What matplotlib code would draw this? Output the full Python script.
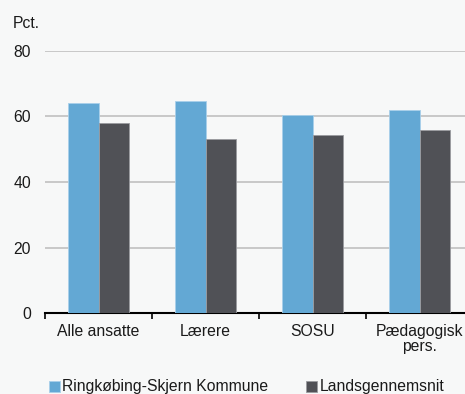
import numpy as np
import matplotlib.pyplot as plt

# Data
kategorier = ["Alle ansatte", "Lærere", "SOSU", "Pædagogisk\npers."]
ringkobing = [64.2, 64.7, 60.4, 61.9]
landsgennemsnit = [58.1, 53.0, 54.3, 56.0]
serie_navne = ["Ringkøbing-Skjern Kommune", "Landsgennemsnit"]

plt.rcParams["font.family"] = ["Liberation Sans", "DejaVu Sans"]
plt.rcParams["font.size"] = 11.3
plt.rcParams["text.color"] = "#1a1a1a"
plt.rcParams["xtick.labelcolor"] = "#1a1a1a"
plt.rcParams["ytick.labelcolor"] = "#1a1a1a"

bg = "#f7f8f8"
blaa = "#63a8d4"
graa = "#505156"

fig = plt.figure(figsize=(4.65, 3.94), dpi=100, facecolor=bg)
ax = fig.add_axes([45 / 465, 1 - 313 / 394, 428 / 465, 262 / 394], facecolor=bg)

x = np.arange(len(kategorier))
b = 0.285
ax.bar(x - b / 2, ringkobing, b, color=blaa, edgecolor="#a9d0ea", linewidth=0.6,
       label=serie_navne[0], zorder=3)
ax.bar(x + b / 2, landsgennemsnit, b, color=graa, edgecolor="#9a9ba0", linewidth=0.6,
       label=serie_navne[1], zorder=3)

ax.set_xlim(-0.5, len(kategorier) - 0.5)
ax.set_ylim(0, 80)
ax.set_yticks([0, 20, 40, 60, 80])
ax.yaxis.grid(True, color="#c0c0c0", linewidth=1.2, zorder=0)
for s in ["top", "right", "left"]:
    ax.spines[s].set_visible(False)
ax.spines["bottom"].set_color("black")
ax.spines["bottom"].set_linewidth(1.5)
ax.tick_params(axis="y", length=0, pad=10)

# kategorigrænser som tick marks, labels som minor ticks
ax.set_xticks(np.arange(len(kategorier) + 1) - 0.5)
ax.set_xticklabels([])
ax.tick_params(axis="x", which="major", length=4, width=1.2, direction="out", color="black")
ax.set_xticks(x, minor=True)
ax.set_xticklabels(kategorier, minor=True, linespacing=1.0)
ax.tick_params(axis="x", which="minor", length=0, pad=8)

fig.text(13 / 465, 1 - 23 / 394, "Pct.", va="center", ha="left")

fig.legend(loc="center left", bbox_to_anchor=(49 / 465, 1 - 387 / 394), ncol=2,
           frameon=False, handlelength=0.7, handleheight=0.7, handletextpad=0.15,
           columnspacing=2.4, borderaxespad=0, borderpad=0)

fig.savefig("out.png", dpi=100, facecolor=bg)
